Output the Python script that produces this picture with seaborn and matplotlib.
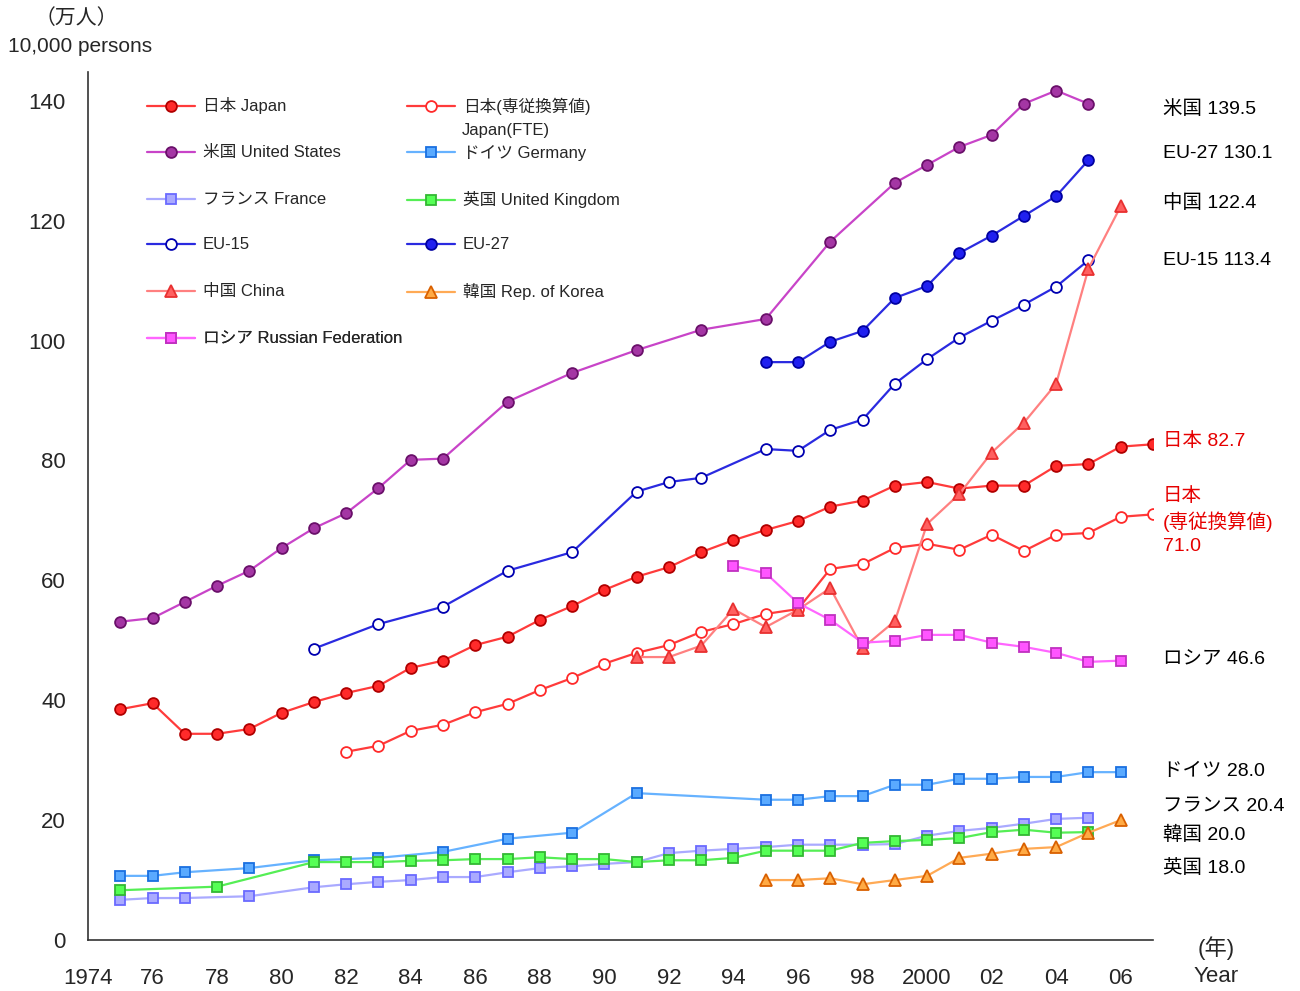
import matplotlib
matplotlib.use("Agg")
import matplotlib.pyplot as plt
import seaborn as sns

# 研究者数 (万人)
jp_years = list(range(1975, 2008))
jp_vals = [38.5, 39.5, 34.4, 34.4, 35.2, 37.9, 39.7, 41.2, 42.4, 45.4, 46.6, 49.2, 50.6,
           53.4, 55.7, 58.4, 60.6, 62.2, 64.7, 66.7, 68.4, 69.9, 72.3, 73.3, 75.8, 76.4,
           75.3, 75.8, 75.8, 79.1, 79.4, 82.3, 82.7]

fte_years = list(range(1982, 2008))
fte_vals = [31.4, 32.4, 34.9, 35.9, 38.0, 39.4, 41.7, 43.7, 46.1, 47.9, 49.2, 51.4, 52.7,
            54.4, 55.2, 61.9, 62.7, 65.4, 66.1, 65.1, 67.6, 64.9, 67.6, 67.9, 70.6, 71.0]

us_years = [1975, 1976, 1977, 1978, 1979, 1980, 1981, 1982, 1983, 1984, 1985, 1987, 1989,
            1991, 1993, 1995, 1997, 1999, 2000, 2001, 2002, 2003, 2004, 2005]
us_vals = [53.1, 53.7, 56.4, 59.1, 61.6, 65.4, 68.7, 71.2, 75.4, 80.1, 80.3, 89.8, 94.6,
           98.4, 101.8, 103.6, 116.5, 126.3, 129.3, 132.3, 134.3, 139.5, 141.7, 139.5]

de_years = [1975, 1976, 1977, 1979, 1981, 1983, 1985, 1987, 1989, 1991, 1995, 1996, 1997,
            1998, 1999, 2000, 2001, 2002, 2003, 2004, 2005, 2006]
de_vals = [10.7, 10.7, 11.3, 12.0, 13.3, 13.7, 14.7, 16.9, 17.9, 24.5, 23.4, 23.4, 24.0,
           24.0, 25.9, 25.9, 26.9, 26.9, 27.2, 27.2, 28.0, 28.0]

fr_years = [1975, 1976, 1977, 1979] + list(range(1981, 2006))
fr_vals = [6.7, 7.0, 7.0, 7.3, 8.8, 9.3, 9.7, 10.0, 10.5, 10.5, 11.3, 12.0, 12.3, 12.7,
           13.0, 14.5, 14.9, 15.2, 15.5, 15.9, 15.9, 15.9, 16.0, 17.4, 18.2, 18.7, 19.4,
           20.2, 20.4]

uk_years = [1975, 1978] + list(range(1981, 2006))
uk_vals = [8.3, 8.9, 13.0, 13.0, 13.0, 13.2, 13.3, 13.5, 13.5, 13.8, 13.5, 13.5, 13.0,
           13.3, 13.3, 13.7, 14.9, 14.9, 14.9, 16.2, 16.5, 16.7, 17.0, 18.0, 18.4, 17.9, 18.0]

eu15_years = [1981, 1983, 1985, 1987, 1989, 1991, 1992, 1993, 1995, 1996, 1997, 1998,
              1999, 2000, 2001, 2002, 2003, 2004, 2005]
eu15_vals = [48.6, 52.7, 55.6, 61.6, 64.7, 74.8, 76.4, 77.1, 81.9, 81.6, 85.1, 86.8,
             92.8, 96.9, 100.5, 103.3, 106.0, 109.0, 113.4]

eu27_years = list(range(1995, 2006))
eu27_vals = [96.4, 96.4, 99.8, 101.6, 107.1, 109.1, 114.6, 117.5, 120.8, 124.1, 130.1]

cn_years = list(range(1991, 2007))
cn_vals = [47.2, 47.2, 49.1, 55.2, 52.2, 55.1, 58.7, 48.7, 53.2, 69.4, 74.4, 81.3, 86.3,
           92.8, 112.0, 122.4]

kr_years = list(range(1995, 2007))
kr_vals = [10.0, 10.0, 10.3, 9.3, 10.0, 10.7, 13.7, 14.4, 15.2, 15.5, 17.9, 20.0]

ru_years = list(range(1994, 2007))
ru_vals = [62.4, 61.2, 56.2, 53.4, 49.6, 49.9, 50.9, 50.9, 49.6, 48.9, 47.9, 46.4, 46.6]

sns.set_style("white")
plt.rcParams['font.family'] = ['Liberation Sans', 'Noto Sans CJK JP', 'DejaVu Sans']

W, H = 1300, 991
fig = plt.figure(figsize=(13, 9.91), dpi=100)
ax = fig.add_axes([88 / W, 51 / H, 1065 / W, 868 / H])

# (label, years, values, line color, marker, face, edge, size, legend col, legend row)
series = [
    ("日本 Japan", jp_years, jp_vals, "#ff3b3b", "o", "#ff2a2a", "#b00000", 7.8, 0, 0),
    ("日本(専従換算値)", fte_years, fte_vals, "#ff3b3b", "o", "white", "#ff2a2a", 7.8, 1, 0),
    ("米国 United States", us_years, us_vals, "#c844c8", "o", "#a436a4", "#6a106a", 7.8, 0, 1),
    ("ドイツ Germany", de_years, de_vals, "#66b2ff", "s", "#5aaaff", "#1a70e0", 7.8, 1, 1),
    ("フランス France", fr_years, fr_vals, "#aaaaff", "s", "#aaaaff", "#6a6aff", 7.8, 0, 2),
    ("英国 United Kingdom", uk_years, uk_vals, "#55ee55", "s", "#55ff55", "#33b833", 7.8, 1, 2),
    ("EU-15", eu15_years, eu15_vals, "#2a2ae0", "o", "white", "#0000b0", 7.8, 0, 3),
    ("EU-27", eu27_years, eu27_vals, "#2a2ae0", "o", "#2020f0", "#0000a0", 7.8, 1, 3),
    ("中国 China", cn_years, cn_vals, "#ff8080", "^", "#ff6060", "#e83030", 9.2, 0, 4),
    ("韓国 Rep. of Korea", kr_years, kr_vals, "#ffaa55", "^", "#ffaa44", "#d96000", 9.2, 1, 4),
    ("ロシア Russian Federation", ru_years, ru_vals, "#ff66ff", "s", "#ff55ff", "#c030c0", 7.8, 0, 5),
]

for label, xs, ys, lc, mk, fc, ec, ms, _, _ in series:
    sns.lineplot(x=xs, y=ys, ax=ax, color=lc, linewidth=1.6, marker=mk, markersize=ms,
                 markerfacecolor=fc, markeredgecolor=ec, markeredgewidth=1.3, label=label)

ax.set_xlim(1974, 2007)
ax.set_ylim(0, 144.8)
ax.set_yticks(range(0, 141, 20))
ax.set_xticks(range(1974, 2008))
xlabels = []
for y in range(1974, 2008):
    if y % 2 == 1 or y > 2006:
        xlabels.append("")
    elif y in (1974, 2000):
        xlabels.append(str(y))
    else:
        xlabels.append(str(y)[2:])
ax.set_xticklabels(xlabels)
ax.tick_params(axis='x', direction='in', length=8, width=1, color='#333333', pad=20, labelsize=16)
ax.tick_params(axis='y', direction='in', length=8, width=1, color='#333333', pad=16, labelsize=16)
sns.despine(ax=ax)
for s in ("left", "bottom"):
    ax.spines[s].set_color("#333333")
    ax.spines[s].set_linewidth(1.2)
ax.set_xlabel("")
ax.set_ylabel("")

# legend: one small legend per entry so the rows line up like the original
h, l = ax.get_legend_handles_labels()
ax.get_legend().remove()
col_x = [147, 407]
row_y = [106, 153, 200, 245, 292, 339]
for i, s in enumerate(series):
    col, row = s[8], s[9]
    lg = ax.legend([h[i]], [l[i]], frameon=False, loc="center left",
                   bbox_to_anchor=((col_x[col] - 88) / 1065, (940 - row_y[row]) / 868),
                   borderpad=0, borderaxespad=0, fontsize=12,
                   handlelength=2.9, handletextpad=0.45)
    ax.add_artist(lg)

fig.text(462 / W, 1 - 131 / H, "Japan(FTE)", fontsize=12, ha="left", va="center")

# labels at the right end
right_labels = [
    ("米国 139.5", 138.6, "black"),
    ("EU-27 130.1", 131.2, "black"),
    ("中国 122.4", 123.0, "black"),
    ("EU-15 113.4", 113.3, "black"),
    ("日本 82.7", 83.3, "#e60000"),
    ("日本\n(専従換算値)\n71.0", 69.9, "#e60000"),
    ("ロシア 46.6", 46.8, "black"),
    ("ドイツ 28.0", 28.1, "black"),
    ("フランス 20.4", 22.2, "black"),
    ("韓国 20.0", 17.6, "black"),
    ("英国 18.0", 12.0, "black"),
]
for txt, yv, col in right_labels:
    ax.text(2007.3, yv, txt, fontsize=14, color=col, ha="left", va="center",
            linespacing=1.45, clip_on=False)

fig.text(76 / W, 1 - 18 / H, "（万人）", fontsize=15, ha="center", va="center")
fig.text(80 / W, 1 - 46 / H, "10,000 persons", fontsize=15, ha="center", va="center")
fig.text(1216 / W, 1 - 948 / H, "(年)", fontsize=16, ha="center", va="center")
fig.text(1216 / W, 1 - 977 / H, "Year", fontsize=16, ha="center", va="center")

fig.savefig("out.png", dpi=100)
